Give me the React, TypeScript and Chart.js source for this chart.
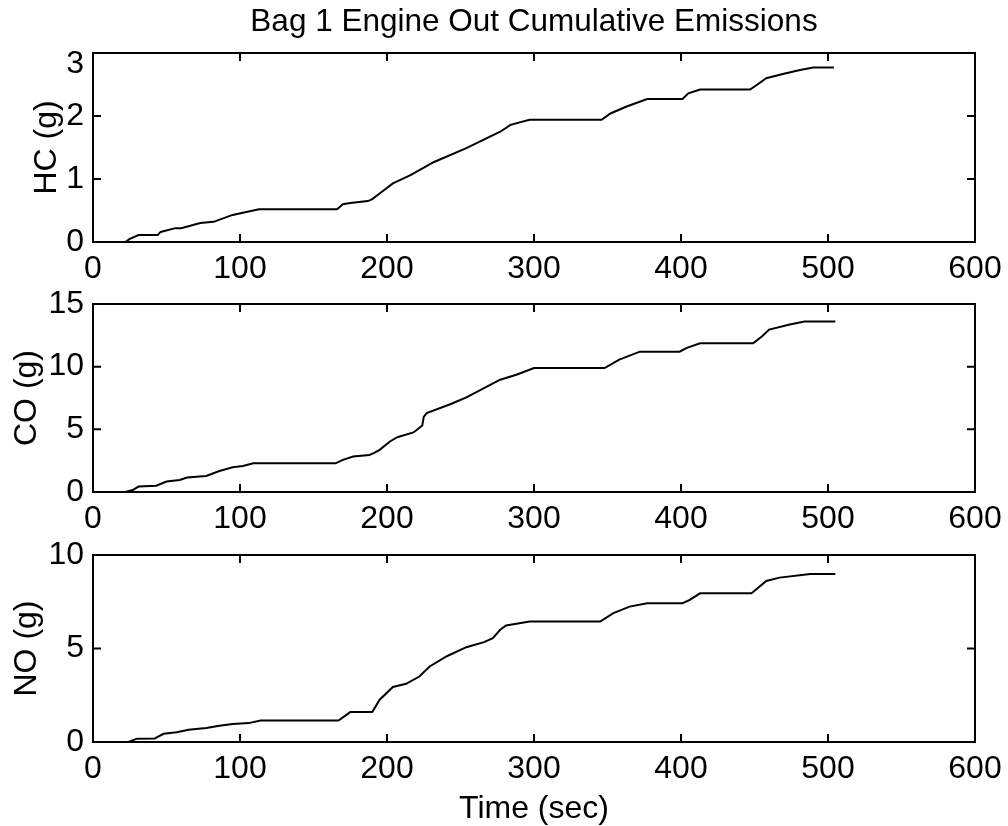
import React, { useEffect, useRef } from 'react';
import { Chart, registerables } from 'chart.js';

Chart.register(...registerables);

// ---------------- data ----------------
const chartTitle = 'Bag 1 Engine Out Cumulative Emissions';
const xAxisLabel = 'Time (sec)';
const xTickValues = [0, 100, 200, 300, 400, 500, 600];

const hcLabel = 'HC (g)';
const hcTicks = [0, 1, 2, 3];
const hcTime = [0, 22, 25, 31, 44, 46, 56, 60, 73, 82, 95, 109, 113, 119, 166, 170, 175, 187, 190, 195, 204, 216, 232, 254, 277, 284, 297, 346, 352, 363, 377, 401, 405, 413, 447, 452, 458, 470, 481, 490, 504];
const hcValues = [0, 0, 0.05, 0.11, 0.11, 0.16, 0.22, 0.22, 0.3, 0.32, 0.43, 0.5, 0.52, 0.52, 0.52, 0.6, 0.62, 0.65, 0.68, 0.77, 0.93, 1.06, 1.27, 1.49, 1.75, 1.86, 1.94, 1.94, 2.04, 2.15, 2.27, 2.27, 2.36, 2.42, 2.42, 2.5, 2.6, 2.67, 2.73, 2.77, 2.77];

const coLabel = 'CO (g)';
const coTicks = [0, 5, 10, 15];
const coTime = [0, 22, 27, 31, 43, 50, 59, 64, 77, 86, 95, 102, 109, 165, 170, 177, 188, 191, 195, 202, 207, 218, 224, 225, 227, 243, 254, 277, 288, 300, 348, 358, 372, 399, 404, 413, 449, 455, 460, 474, 484, 505];
const coValues = [0, 0, 0.16, 0.43, 0.5, 0.83, 0.96, 1.15, 1.28, 1.68, 1.97, 2.08, 2.29, 2.29, 2.56, 2.83, 2.96, 3.1, 3.36, 4.03, 4.37, 4.75, 5.3, 6.0, 6.29, 7.0, 7.55, 8.96, 9.36, 9.89, 9.89, 10.56, 11.2, 11.2, 11.5, 11.87, 11.87, 12.4, 12.96, 13.36, 13.6, 13.6];

const noLabel = 'NO (g)';
const noTicks = [0, 5, 10];
const noTime = [0, 24, 30, 42, 48, 57, 65, 77, 86, 95, 106, 114, 167, 175, 190, 195, 204, 213, 222, 229, 241, 254, 266, 272, 277, 281, 297, 345, 354, 365, 377, 401, 406, 413, 448, 458, 467, 488, 505];
const noValues = [0, 0, 0.18, 0.19, 0.44, 0.52, 0.66, 0.75, 0.87, 0.96, 1.01, 1.15, 1.15, 1.6, 1.6, 2.26, 2.94, 3.11, 3.5, 4.04, 4.6, 5.07, 5.34, 5.55, 6.0, 6.23, 6.44, 6.44, 6.89, 7.24, 7.42, 7.42, 7.6, 7.95, 7.95, 8.61, 8.79, 8.99, 8.99];

// ---------------- layout ----------------
const W = 1008;
const H = 826;
const PLOT_LEFT = 93;
const PLOT_RIGHT = 975;
const FONT_FAMILY = '"Liberation Sans", Arial, Helvetica, sans-serif';
const FONT = { family: FONT_FAMILY, size: 32, weight: 'normal' as const, lineHeight: 1 };
const TITLE_FONT = { family: FONT_FAMILY, size: 31.5, weight: 'normal' as const, lineHeight: 1 };

const panels = [
  { label: hcLabel, time: hcTime, values: hcValues, ticks: hcTicks, max: 3, top: 53, bottom: 242, labelPad: 31, topLabelDrop: true },
  { label: coLabel, time: coTime, values: coValues, ticks: coTicks, max: 15, top: 304, bottom: 492, labelPad: 11, topLabelDrop: false },
  { label: noLabel, time: noTime, values: noValues, ticks: noTicks, max: 10, top: 555, bottom: 742, labelPad: 11, topLabelDrop: false },
];

const boxPlugin = {
  id: 'matlabBox',
  afterDatasetsDraw(chart: any) {
    const { ctx, chartArea, scales } = chart;
    const { left, right, top, bottom } = chartArea;
    const xs = scales.x;
    const ys = scales.y;
    const tl = 8;
    ctx.save();
    ctx.strokeStyle = '#000';
    ctx.lineWidth = 2;
    ctx.beginPath();
    xs.ticks.forEach((t: any) => {
      const px = xs.getPixelForValue(t.value);
      ctx.moveTo(px, bottom);
      ctx.lineTo(px, bottom - tl);
      ctx.moveTo(px, top);
      ctx.lineTo(px, top + tl);
    });
    ys.ticks.forEach((t: any) => {
      const py = ys.getPixelForValue(t.value);
      ctx.moveTo(left, py);
      ctx.lineTo(left + tl, py);
      ctx.moveTo(right, py);
      ctx.lineTo(right - tl, py);
    });
    ctx.stroke();
    ctx.strokeRect(left, top, right - left, bottom - top);
    ctx.restore();
  },
};

function Panel({ index }: { index: number }) {
  const ref = useRef<HTMLCanvasElement | null>(null);
  useEffect(() => {
    const p = panels[index];
    const isFirst = index === 0;
    const isLast = index === panels.length - 1;
    const xh = isLast ? H - p.bottom : 60;
    const chart = new Chart(ref.current as HTMLCanvasElement, {
      type: 'line',
      data: {
        datasets: [
          {
            data: p.time.map((t, k) => ({ x: t, y: p.values[k] })),
            borderColor: '#000',
            borderWidth: 2,
            pointRadius: 0,
            fill: false,
            tension: 0,
          },
        ],
      },
      options: {
        animation: false,
        responsive: false,
        events: [],
        layout: {
          padding: {
            left: 0,
            right: W - PLOT_RIGHT,
            top: isFirst ? 0 : p.top,
            bottom: isLast ? 0 : H - p.bottom - xh,
          },
        },
        plugins: {
          legend: { display: false },
          tooltip: { enabled: false },
          title: {
            display: isFirst,
            text: chartTitle,
            color: '#000',
            font: TITLE_FONT,
            fullSize: false,
            padding: { top: 7, bottom: p.top - 7 - 31.5 },
          },
        },
        scales: {
          x: {
            type: 'linear',
            min: 0,
            max: 600,
            grid: { display: false, drawTicks: false },
            border: { display: false },
            afterBuildTicks: (s: any) => {
              s.ticks = xTickValues.map((v) => ({ value: v }));
            },
            afterFit: (s: any) => {
              s.height = xh;
              s.paddingLeft = 0;
              s.paddingRight = 0;
            },
            ticks: { color: '#000', font: FONT, padding: 11, maxRotation: 0, autoSkip: false },
            title: {
              display: isLast,
              text: xAxisLabel,
              color: '#000',
              font: FONT,
              padding: { top: 0, bottom: 1 },
            },
          },
          y: {
            type: 'linear',
            min: 0,
            max: p.max,
            grid: { display: false, drawTicks: false },
            border: { display: false },
            afterBuildTicks: (s: any) => {
              s.ticks = p.ticks.map((v) => ({ value: v }));
            },
            afterFit: (s: any) => {
              s.width = PLOT_LEFT;
              s.paddingTop = 0;
              s.paddingBottom = 0;
            },
            ticks: {
              color: '#000',
              font: { ...FONT, lineHeight: 0.68 },
              padding: 9,
              autoSkip: false,
              callback: (v: any) => (p.topLabelDrop && v === p.max ? ['', String(v)] : String(v)),
            },
            title: {
              display: true,
              text: p.label,
              color: '#000',
              font: FONT,
              padding: { top: p.labelPad, bottom: 0 },
            },
          },
        },
      },
      plugins: [boxPlugin],
    } as any);
    return () => chart.destroy();
  }, [index]);
  return (
    <canvas
      ref={ref}
      width={W}
      height={H}
      style={{ position: 'absolute', left: 0, top: 0, width: W, height: H }}
    />
  );
}

export default function App() {
  return (
    <div style={{ position: 'absolute', left: 0, top: 0, width: W, height: H, background: '#fff', overflow: 'hidden' }}>
      {panels.map((_, i) => (
        <Panel key={i} index={i} />
      ))}
    </div>
  );
}
